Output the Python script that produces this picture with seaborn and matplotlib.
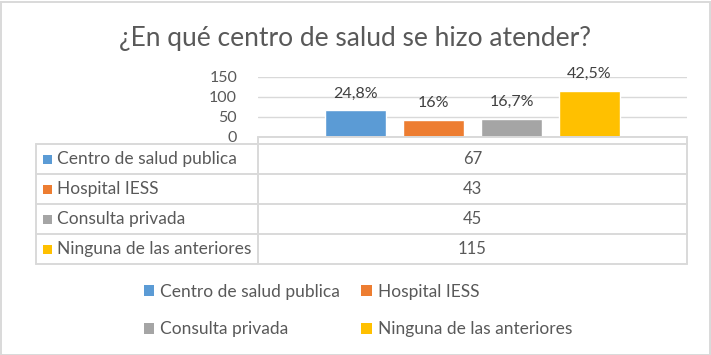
import matplotlib
matplotlib.use("Agg")
import matplotlib.pyplot as plt
from matplotlib.patches import Rectangle, Patch
from matplotlib.lines import Line2D
import seaborn as sns
import pandas as pd

title = "¿En qué centro de salud se hizo atender?"
series = ["Centro de salud publica", "Hospital IESS", "Consulta privada", "Ninguna de las anteriores"]
values = [67, 43, 45, 115]
pct_labels = ["24,8%", "16%", "16,7%", "42,5%"]
colors = ["#5B9BD5", "#ED7D31", "#A5A5A5", "#FFC000"]
yticks = [0, 50, 100, 150]

sns.set_theme(style="white")
plt.rcParams["font.family"] = ["Lato", "DejaVu Sans"]

W, H = 711, 355
fig = plt.figure(figsize=(W / 100, H / 100), dpi=100)

def fx(x):
    return x / W

def fy(y):
    return 1 - y / H

TXT = "#595959"
GRID = "#d9d9d9"
FS = 12.5

# axes area in pixels
ax_l, ax_r, ax_t, ax_b = 258, 687, 77, 137
ax = fig.add_axes([fx(ax_l), fy(ax_b), (ax_r - ax_l) / W, (ax_b - ax_t) / H])

df = pd.DataFrame({"grupo": [""] * len(series), "serie": series, "valor": values})
sns.barplot(data=df, x="grupo", y="valor", hue="serie", hue_order=series,
            palette=colors, width=0.727, gap=0.22, legend=False, ax=ax,
            saturation=1)
ax.set_xlim(-0.5, 0.5)
ax.set_ylim(0, 150)
ax.set_yticks(yticks)
ax.set_yticklabels([str(t) for t in yticks], color=TXT, fontsize=11.5)
ax.tick_params(axis="y", length=0, pad=15)
ax.set_xticks([])
ax.set_xlabel("")
ax.set_ylabel("")
for s in ax.spines.values():
    s.set_visible(False)
ax.grid(axis="y", color=GRID, lw=1.0)
ax.set_axisbelow(True)
for cont, lab in zip(ax.containers, pct_labels):
    ax.bar_label(cont, labels=[lab], padding=7, fontsize=11.5, color="#404040")

# title
fig.text(fx(355), fy(46), title, ha="center", va="baseline", fontsize=19, color=TXT)

# data table
tl, tc, tr = 36, 258, 687
row_y = [144, 174, 204, 234, 264]
lw = 1.4
def hline(x0, x1, y):
    fig.add_artist(Line2D([fx(x0), fx(x1)], [fy(y), fy(y)], color=GRID, lw=lw))
def vline(x, y0, y1):
    fig.add_artist(Line2D([fx(x), fx(x)], [fy(y0), fy(y1)], color=GRID, lw=lw))

hline(tc, tr, 137)
for y in row_y:
    hline(tl, tr, y)
vline(tl, row_y[0], row_y[-1])
vline(tc, 137, row_y[-1])
vline(tr, 137, row_y[-1])

for i, (name, val, col) in enumerate(zip(series, values, colors)):
    yc = (row_y[i] + row_y[i + 1]) / 2
    fig.add_artist(Rectangle((fx(43), fy(yc + 4.5)), 9 / W, 9 / H,
                             facecolor=col, edgecolor="none"))
    fig.text(fx(57), fy(yc), name, ha="left", va="center", fontsize=FS, color=TXT)
    fig.text(fx((tc + tr) / 2), fy(yc), str(val), ha="center", va="center",
             fontsize=12, color=TXT)

# legend
order = [0, 2, 1, 3]
handles = [Patch(facecolor=colors[i], edgecolor="none", label=series[i]) for i in order]
fig.legend(handles=handles, ncol=2, loc="center", bbox_to_anchor=(fx(358), fy(310.5)),
           frameon=False, fontsize=FS, labelcolor=TXT, handlelength=0.6,
           handleheight=0.6, handletextpad=0.35, columnspacing=1.2, labelspacing=1.25,
           borderaxespad=0)

# outer border
fig.add_artist(Rectangle((0.5 / W, 0.5 / H), (W - 2) / W, (H - 2) / H,
                         facecolor="none", edgecolor=GRID, lw=1.4))

fig.savefig("out.png", dpi=100)
